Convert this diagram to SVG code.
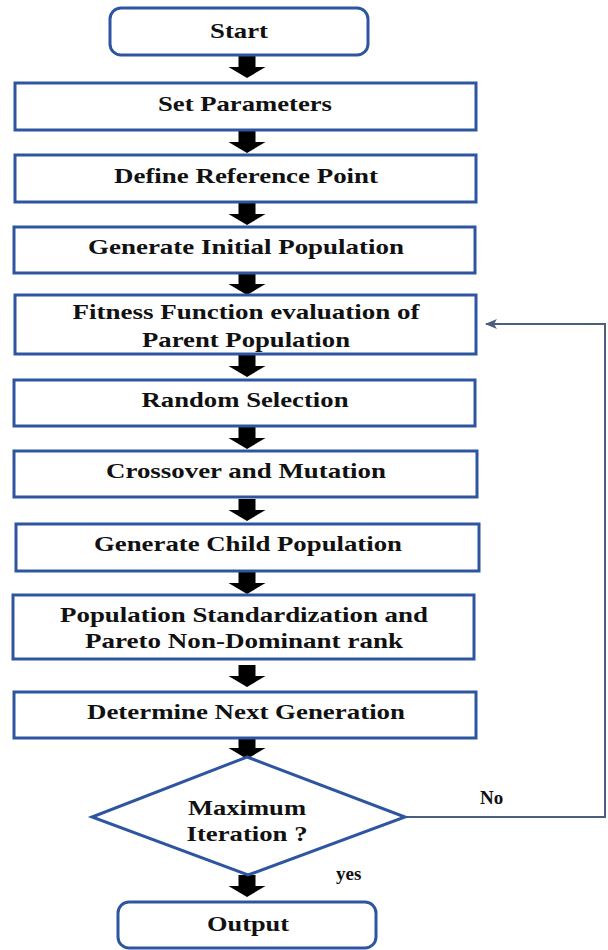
<svg xmlns="http://www.w3.org/2000/svg" width="608" height="950" viewBox="0 0 608 950">
  <style>
    .box { fill: #ffffff; stroke: #2e56a0; stroke-width: 3; }
    .lbl { font-family: "Liberation Serif", "Times New Roman", serif; font-weight: bold; font-size: 22px; fill: #111111; text-anchor: middle; }
    .side { font-family: "Liberation Serif", "Times New Roman", serif; font-weight: bold; font-size: 19px; fill: #111111; }
    .flow { fill: #000000; }
    .loop { fill: none; stroke: #4a5f80; stroke-width: 2; }
  </style>
  <defs>
    <!-- thick block arrow, origin at top of shaft, height 22 -->
    <path id="blk" d="M -8.5 0 L 8.5 0 L 8.5 11 L 18.5 11 L 0 22 L -18.5 11 L -8.5 11 Z"/>
    <marker id="tip" viewBox="0 0 12 10" refX="11" refY="5" markerWidth="12" markerHeight="10" markerUnits="userSpaceOnUse" orient="auto">
      <path d="M 0 0 L 12 5 L 0 10 L 3 5 Z" fill="#4a5f80"/>
    </marker>
  </defs>

  <g id="connectors">
    <use href="#blk" class="flow" x="247" y="56"/>
    <use href="#blk" class="flow" x="247" y="131"/>
    <use href="#blk" class="flow" x="247" y="203"/>
    <use href="#blk" class="flow" x="247" y="273"/>
    <use href="#blk" class="flow" x="247" y="355"/>
    <use href="#blk" class="flow" x="247" y="427"/>
    <use href="#blk" class="flow" x="247" y="499"/>
    <use href="#blk" class="flow" x="247" y="572"/>
    <use href="#blk" class="flow" x="247" y="665"/>
    <use href="#blk" class="flow" x="247" y="737"/>
    <use href="#blk" class="flow" x="247" y="875"/>
    <polyline class="loop" points="405,817 605,817 605,324 486,324" marker-end="url(#tip)"/>
    <text class="side" x="480" y="804">No</text>
    <text class="side" x="336" y="880">yes</text>
  </g>

  <g id="start">
    <rect class="box" x="110" y="8" width="258" height="47" rx="11"/>
    <text class="lbl" x="239" y="38" textLength="58" lengthAdjust="spacingAndGlyphs">Start</text>
  </g>
  <g id="set-parameters">
    <rect class="box" x="15" y="83" width="461" height="47"/>
    <text class="lbl" x="245" y="111" textLength="174" lengthAdjust="spacingAndGlyphs">Set Parameters</text>
  </g>
  <g id="define-reference-point">
    <rect class="box" x="15" y="155" width="461" height="47"/>
    <text class="lbl" x="246" y="183" textLength="264" lengthAdjust="spacingAndGlyphs">Define Reference Point</text>
  </g>
  <g id="generate-initial-population">
    <rect class="box" x="14" y="227" width="461" height="46"/>
    <text class="lbl" x="246" y="254" textLength="316" lengthAdjust="spacingAndGlyphs">Generate Initial Population</text>
  </g>
  <g id="fitness-evaluation">
    <rect class="box" x="15" y="295" width="461" height="59"/>
    <text class="lbl" x="246" y="319" textLength="347" lengthAdjust="spacingAndGlyphs">Fitness Function evaluation of</text>
    <text class="lbl" x="246" y="347" textLength="208" lengthAdjust="spacingAndGlyphs">Parent Population</text>
  </g>
  <g id="random-selection">
    <rect class="box" x="14" y="380" width="461" height="46"/>
    <text class="lbl" x="245" y="407" textLength="207" lengthAdjust="spacingAndGlyphs">Random Selection</text>
  </g>
  <g id="crossover-mutation">
    <rect class="box" x="14" y="451" width="463" height="46"/>
    <text class="lbl" x="246" y="478" textLength="280" lengthAdjust="spacingAndGlyphs">Crossover and Mutation</text>
  </g>
  <g id="generate-child-population">
    <rect class="box" x="16" y="524" width="463" height="47"/>
    <text class="lbl" x="248" y="551" textLength="308" lengthAdjust="spacingAndGlyphs">Generate Child Population</text>
  </g>
  <g id="standardization-rank">
    <rect class="box" x="13" y="595" width="461" height="64"/>
    <text class="lbl" x="244" y="622" textLength="368" lengthAdjust="spacingAndGlyphs">Population Standardization and</text>
    <text class="lbl" x="244" y="648" textLength="318" lengthAdjust="spacingAndGlyphs">Pareto Non-Dominant rank</text>
  </g>
  <g id="determine-next-generation">
    <rect class="box" x="14" y="692" width="462" height="46"/>
    <text class="lbl" x="246" y="719" textLength="318" lengthAdjust="spacingAndGlyphs">Determine Next Generation</text>
  </g>
  <g id="maximum-iteration">
    <polygon class="box" points="247,757 405,817 248,875 92,817"/>
    <text class="lbl" x="247" y="815" textLength="118" lengthAdjust="spacingAndGlyphs">Maximum</text>
    <text class="lbl" x="247" y="841" textLength="121" lengthAdjust="spacingAndGlyphs">Iteration ?</text>
  </g>
  <g id="output">
    <rect class="box" x="118" y="902" width="258" height="46" rx="11"/>
    <text class="lbl" x="248" y="931" textLength="82" lengthAdjust="spacingAndGlyphs">Output</text>
  </g>
</svg>
